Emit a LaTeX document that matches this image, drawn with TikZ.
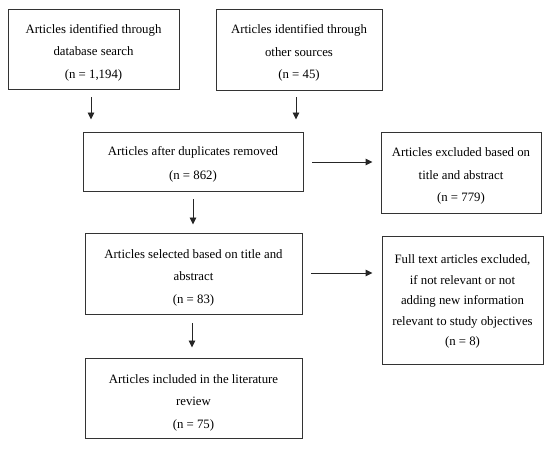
\documentclass[tikz,border=0pt]{standalone}
\usepackage{fontspec}
\setmainfont{Liberation Serif}
\usetikzlibrary{arrows.meta}
\begin{document}
\begin{tikzpicture}[x=1pt,y=-1pt,
  box/.style={draw=black!80, line width=0.95pt, inner sep=0pt},
  txt/.style={inner sep=0pt, align=center, text=black,
    font=\fontsize{12.8}{22.5}\selectfont},
  arr/.style={draw=black!85, line width=0.95pt, -{Triangle[length=7pt,width=6.5pt]}}]
\useasboundingbox (0,0) rectangle (550,449);
\fill[white] (0,0) rectangle (550,449);
\node[box, minimum width=171pt, minimum height=80pt] (b1) at (93.5,49) {};
\node[box, minimum width=166pt, minimum height=81pt] (b2) at (299,49.5) {};
\node[box, minimum width=220pt, minimum height=59pt] (b3) at (193,161.5) {};
\node[box, minimum width=217pt, minimum height=81pt] (b4) at (193.5,273.5) {};
\node[box, minimum width=217pt, minimum height=80pt] (b5) at (193.5,398) {};
\node[box, minimum width=160pt, minimum height=81pt] (r1) at (461,172.5) {};
\node[box, minimum width=161pt, minimum height=128pt] (r2) at (462.5,300) {};
\node[txt] (t1) at ([yshift=-3.5pt]b1.center)
  {Articles identified through\\database search\\(n = 1,194)};
\node[txt] (t2) at ([yshift=-3.5pt]b2.center)
  {Articles identified through\\other sources\\(n = 45)};
\node[txt, font=\fontsize{12.8}{24}\selectfont] (t3) at ([yshift=-3pt]b3.center)
  {Articles after duplicates removed\\(n = 862)};
\node[txt] (t4) at ([yshift=-4pt]b4.center)
  {Articles selected based on title and\\abstract\\(n = 83)};
\node[txt] (t5) at ([yshift=-4.5pt]b5.center)
  {Articles included in the literature\\review\\(n = 75)};
\node[txt] (t6) at ([yshift=-3.5pt]r1.center)
  {Articles excluded based on\\title and abstract\\(n = 779)};
\node[txt, font=\fontsize{12.8}{20.5}\selectfont] (t7) at ([yshift=-1.5pt]r2.center)
  {Full text articles excluded,\\if not relevant or not\\adding new information\\relevant to study objectives\\(n = 8)};
\coordinate (xa) at (91,0);
\coordinate (xb) at (296,0);
\coordinate (xc) at (193,0);
\coordinate (xd) at (192,0);
\coordinate (ya) at (0,162);
\coordinate (yb) at (0,273);
\draw[arr, shorten <=8pt, shorten >=12pt] (b1.south -| xa) -- (b3.north -| xa);
\draw[arr, shorten <=7pt, shorten >=12pt] (b2.south -| xb) -- (b3.north -| xb);
\draw[arr, shorten <=8pt, shorten >=8pt] (b3.south -| xc) -- (b4.north -| xc);
\draw[arr, shorten <=9pt, shorten >=10pt] (b4.south -| xd) -- (b5.north -| xd);
\draw[arr, shorten <=9pt, shorten >=8pt] (b3.east |- ya) -- (r1.west |- ya);
\draw[arr, shorten <=9pt, shorten >=9pt] (b4.east |- yb) -- (r2.west |- yb);
\end{tikzpicture}
\end{document}
